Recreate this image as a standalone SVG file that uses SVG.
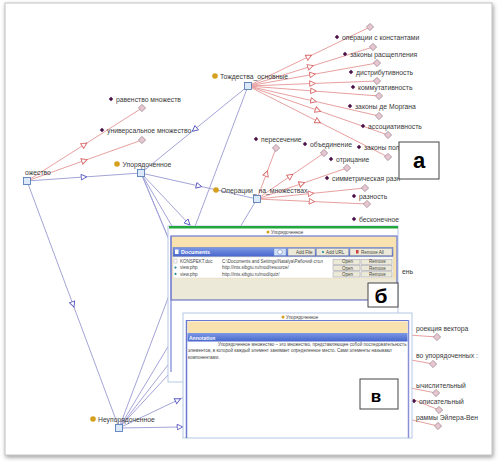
<svg xmlns="http://www.w3.org/2000/svg" width="499" height="462" viewBox="0 0 499 462">
<style>
.lbl{font-family:"Liberation Sans",Arial,sans-serif;font-size:6.8px;fill:#3a3a3a}
.tiny{font-family:"Liberation Sans",Arial,sans-serif;font-size:4.5px;fill:#444}
.red{fill:none;stroke:#e8a0a0;stroke-width:1;marker-mid:url(#ar)}
.redp{fill:none;stroke:#e8a0a0;stroke-width:1}
.blue{fill:none;stroke:#a4a4d8;stroke-width:1;marker-mid:url(#ab)}
.bluep{fill:none;stroke:#a4a4d8;stroke-width:1}
.leaf{fill:#e6c6d0;stroke:#a08890;stroke-width:0.8}
.pd{fill:#4a1246}
.cls{fill:#dbe9f8;stroke:#5a7fb8;stroke-width:0.9}
.od{fill:#d4a01e}
.btn{fill:#ece9d8;stroke:#9a9aa8;stroke-width:0.5}
.big{font-family:"Liberation Sans",Arial,sans-serif;font-weight:900;fill:#000}
</style>
<defs>
<marker id="ar" viewBox="0 0 10 10" refX="5" refY="5" markerWidth="7" markerHeight="7" markerUnits="userSpaceOnUse" orient="auto"><path d="M1,1 L9,5 L1,9 Z" fill="#fff" stroke="#d86868" stroke-width="1.3"/></marker>
<marker id="ab" viewBox="0 0 10 10" refX="5" refY="5" markerWidth="7" markerHeight="7" markerUnits="userSpaceOnUse" orient="auto"><path d="M1,1 L9,5 L1,9 Z" fill="#fff" stroke="#5a5ac0" stroke-width="1.3"/></marker>
<filter id="sh" x="-5%" y="-5%" width="110%" height="110%"><feDropShadow dx="1" dy="2" stdDeviation="2.2" flood-color="#777" flood-opacity="0.7"/></filter>
<linearGradient id="hb" x1="0" y1="0" x2="0" y2="1"><stop offset="0" stop-color="#7d98e4"/><stop offset="1" stop-color="#4766cc"/></linearGradient>
<symbol id="lf" viewBox="-4 -4 8 8" overflow="visible"><path d="M0,-3.6 L3.6,0 L0,3.6 L-3.6,0 Z" class="leaf"/></symbol>
</defs>
<rect x="5" y="3" width="487" height="452" fill="#fff" stroke="#c4c4c4" stroke-width="1" filter="url(#sh)"/>

<g id="connectors">
<path class="red" d="M27,181 L84.5,144.5 L142,108"/>
<path class="red" d="M27,181 L84.5,160.5 L142,140"/>
<path class="blue" d="M27,181 L84,177 L141,173"/>
<path class="blue" d="M27,181 L73,304.5 L119,428"/>
<path class="red" d="M248,86 L309,56.5 L370,27"/>
<path class="red" d="M248,86 L310.5,66.5 L373,47"/>
<path class="red" d="M248,86 L312.5,74.5 L377,63"/>
<path class="red" d="M248,86 L312.5,83.5 L377,81"/>
<path class="red" d="M248,86 L313.5,91 L379,96"/>
<path class="red" d="M248,86 L313.5,101 L379,116"/>
<path class="red" d="M248,86 L318,110.5 L388,135"/>
<path class="red" d="M248,86 L318,121.5 L388,157"/>
<path class="blue" d="M248,86 L194.5,129.5 L141,173"/>
<path class="bluep" d="M248,86 L119,428"/>
<path class="red" d="M257,199 L266.5,173.5 L276,148"/>
<path class="red" d="M257,199 L290.5,176 L324,153"/>
<path class="red" d="M257,199 L302,183.5 L347,168"/>
<path class="red" d="M257,199 L311,193.5 L365,188"/>
<path class="red" d="M257,199 L312,201.5 L367,204"/>
<path class="bluep" d="M257,199 L119,428"/>
<path class="blue" d="M141,173 L199,186 L257,199"/>
<path class="bluep" d="M141,173 L190,290"/>
<path class="bluep" d="M141,173 L215,300"/>
<path class="bluep" d="M141,173 L203,320"/>
<path class="blue" d="M141,173 L188,223 L235,273"/>
<path class="bluep" d="M119,428 L217,302"/>
<path class="bluep" d="M119,428 L217,322"/>
<path class="blue" d="M119,428 L178,400 L237,372"/>
<path class="blue" d="M119,428 L180,427 L241,426"/>
<path class="redp" d="M395,334 L437,337"/>
<path class="redp" d="M395,357 L433,364"/>
<path class="redp" d="M395,385 L436,393"/>
<path class="redp" d="M395,392 L439,410"/>
<path class="redp" d="M395,416 L438,426"/>
</g>

<g id="n-mnozhestvo"><rect class="cls" x="23.5" y="177.5" width="7" height="7"/><text class="lbl" x="25" y="175">ожество</text></g>
<g id="n-uporyad"><rect class="cls" x="137.5" y="169.5" width="7" height="7"/><circle class="od" cx="117" cy="164" r="2.8"/><text class="lbl" x="122.5" y="166.5">Упорядоченное</text></g>
<g id="n-tozhd"><rect class="cls" x="244.5" y="82.5" width="7" height="7"/><circle class="od" cx="215" cy="76" r="2.8"/><text class="lbl" x="220" y="78.5">Тождества_основные</text></g>
<g id="n-oper"><rect class="cls" x="253.5" y="195.5" width="7" height="7"/><circle class="od" cx="216" cy="190" r="2.8"/><text class="lbl" x="221" y="192.5">Операции_ на_множествах</text></g>
<g id="n-neupor"><rect class="cls" x="115.5" y="424.5" width="7" height="7"/><circle class="od" cx="93" cy="419" r="2.8"/><text class="lbl" x="98" y="421.5">Неупорядоченное</text></g>

<g id="leaves">
<use href="#lf" x="138" y="104" width="8" height="8"/>
<use href="#lf" x="138" y="136" width="8" height="8"/>
<use href="#lf" x="366" y="23" width="8" height="8"/>
<use href="#lf" x="369" y="43" width="8" height="8"/>
<use href="#lf" x="373" y="59" width="8" height="8"/>
<use href="#lf" x="373" y="77" width="8" height="8"/>
<use href="#lf" x="375" y="92" width="8" height="8"/>
<use href="#lf" x="375" y="112" width="8" height="8"/>
<use href="#lf" x="384" y="131" width="8" height="8"/>
<use href="#lf" x="384" y="153" width="8" height="8"/>
<use href="#lf" x="272" y="144" width="8" height="8"/>
<use href="#lf" x="320" y="149" width="8" height="8"/>
<use href="#lf" x="343" y="164" width="8" height="8"/>
<use href="#lf" x="361" y="184" width="8" height="8"/>
<use href="#lf" x="363" y="200" width="8" height="8"/>
<use href="#lf" x="433" y="333" width="8" height="8"/>
<use href="#lf" x="429" y="360" width="8" height="8"/>
<use href="#lf" x="432" y="389" width="8" height="8"/>
<use href="#lf" x="435" y="406" width="8" height="8"/>
<use href="#lf" x="434" y="422" width="8" height="8"/>
</g>

<g id="leaf-labels">
<g id="l1"><path class="pd" d="M111,96.8 L113.2,99 L111,101.2 L108.8,99Z"/><text class="lbl" x="116" y="101.5">равенство множеств</text></g>
<g id="l2"><path class="pd" d="M102,127.8 L104.2,130 L102,132.2 L99.8,130Z"/><text class="lbl" x="107" y="132.5">универсальное множество</text></g>
<g id="l3"><path class="pd" d="M337,34.8 L339.2,37 L337,39.2 L334.8,37Z"/><text class="lbl" x="342" y="39.5">операции с константами</text></g>
<g id="l4"><path class="pd" d="M345,51.8 L347.2,54 L345,56.2 L342.8,54Z"/><text class="lbl" x="350" y="56.5">законы расщепления</text></g>
<g id="l5"><path class="pd" d="M351,69.8 L353.2,72 L351,74.2 L348.8,72Z"/><text class="lbl" x="356" y="74.5">дистрибутивность</text></g>
<g id="l6"><path class="pd" d="M353,84.8 L355.2,87 L353,89.2 L350.8,87Z"/><text class="lbl" x="358" y="89.5">коммутативность</text></g>
<g id="l7"><path class="pd" d="M350,103.8 L352.2,106 L350,108.2 L347.8,106Z"/><text class="lbl" x="355" y="108.5">законы де Моргана</text></g>
<g id="l8"><path class="pd" d="M363,123.8 L365.2,126 L363,128.2 L360.8,126Z"/><text class="lbl" x="368" y="128.5">ассоциативность</text></g>
<g id="l9"><path class="pd" d="M359,144.8 L361.2,147 L359,149.2 L356.8,147Z"/><text class="lbl" x="364" y="149.5">законы пол</text></g>
<g id="l10"><path class="pd" d="M256,136.8 L258.2,139 L256,141.2 L253.8,139Z"/><text class="lbl" x="261" y="141.5">пересечение</text></g>
<g id="l11"><path class="pd" d="M305,141.8 L307.2,144 L305,146.2 L302.8,144Z"/><text class="lbl" x="310" y="146.5">объединение</text></g>
<g id="l12"><path class="pd" d="M331,156.8 L333.2,159 L331,161.2 L328.8,159Z"/><text class="lbl" x="336" y="161.5">отрицание</text></g>
<g id="l13"><path class="pd" d="M327,175.8 L329.2,178 L327,180.2 L324.8,178Z"/><text class="lbl" x="332" y="180.5">симметрическая разн</text></g>
<g id="l14"><path class="pd" d="M354,193.8 L356.2,196 L354,198.2 L351.8,196Z"/><text class="lbl" x="359" y="198.5">разность</text></g>
<g id="l15"><path class="pd" d="M354,216.8 L356.2,219 L354,221.2 L351.8,219Z"/><text class="lbl" x="359" y="221.5">бесконечное</text></g>
<g id="l16"><text class="lbl" x="402" y="273.5">ень</text></g>
<g id="l17"><text class="lbl" x="416" y="330.5">роекция вектора</text></g>
<g id="l18"><text class="lbl" x="416" y="357.5">во упорядоченных :</text></g>
<g id="l19"><text class="lbl" x="416" y="387.5">ычислительный</text></g>
<g id="l20"><path class="pd" d="M414,398.8 L416.2,401 L414,403.2 L411.8,401Z"/><text class="lbl" x="419" y="403.5">описательный</text></g>
<g id="l21"><text class="lbl" x="416" y="419.5">раммы Эйлера-Вен</text></g>
</g>

<g id="box-a"><rect x="399" y="142" width="40" height="37" fill="#fff" stroke="#444" stroke-width="1"/><text class="big" x="419" y="168" font-size="22" text-anchor="middle">а</text></g>

<g id="win-b">
<rect x="168" y="226" width="230" height="156" fill="#fff" stroke="#b4c8e6" stroke-width="1"/>
<rect x="169" y="226" width="229" height="2.5" fill="#22a83a"/>
<circle class="od" cx="268" cy="232" r="1.5"/><text class="tiny" x="271" y="233.8">Упорядоченное</text>
<rect x="171" y="236" width="226" height="64" fill="#f8e2b0" stroke="#6a78d0" stroke-width="1.2"/>
<line x1="171" y1="236" x2="171" y2="372" stroke="#7a86d6" stroke-width="1.2"/>
<rect x="173" y="247.5" width="220" height="9" fill="url(#hb)" stroke="#5a74c8" stroke-width="0.5"/>
<rect x="175" y="249.5" width="3.5" height="4.5" fill="#fff"/>
<text x="181" y="254.3" font-family="Liberation Sans,Arial,sans-serif" font-size="5.3" font-weight="bold" fill="#fff">Documents</text>
<rect x="274" y="248.5" width="12" height="7" fill="#cfe0f6" stroke="#7a8ac8" stroke-width="0.4"/>
<circle cx="280" cy="252" r="2.3" fill="#fff" stroke="#5a6ac0" stroke-width="0.5"/>
<rect class="btn" x="288" y="248.5" width="27" height="7"/><text class="tiny" x="296" y="253.6" font-size="4">Add File</text>
<rect class="btn" x="316.5" y="248.5" width="32" height="7"/><circle cx="323" cy="252" r="1.1" fill="#1f8a9a"/><text class="tiny" x="326" y="253.6" font-size="4">Add URL</text>
<rect class="btn" x="350" y="248.5" width="42" height="7"/><rect x="356" y="250" width="2.5" height="3.5" fill="#d04040"/><text class="tiny" x="361" y="253.6" font-size="4">Remove All</text>
<rect x="173" y="257" width="220" height="21" fill="#fff" stroke="#d0d0d0" stroke-width="0.4"/>
<rect x="174" y="259" width="3" height="4" fill="#fff" stroke="#999" stroke-width="0.4"/>
<text class="tiny" x="180" y="263" font-size="4">KONSPEKT.doc</text>
<text class="tiny" x="222" y="263" font-size="4">C:\Documents and Settings\Natalya\Рабочий стол</text>
<circle cx="175.5" cy="267.6" r="1.1" fill="#1f8a9a"/><text class="tiny" x="180" y="269.3" font-size="4">view.php</text>
<text class="tiny" x="222" y="269.3" font-size="4">http://ints.sibgtu.ru/mod/resource/</text>
<circle cx="175.5" cy="273.9" r="1.1" fill="#1f8a9a"/><text class="tiny" x="180" y="275.6" font-size="4">view.php</text>
<text class="tiny" x="222" y="275.6" font-size="4">http://ints.sibgtu.ru/mod/quiz/</text>
<rect class="btn" x="333" y="259.2" width="27" height="5.2"/><text class="tiny" x="342" y="263.3" font-size="3.8">Open</text>
<rect class="btn" x="361" y="259.2" width="31" height="5.2"/><text class="tiny" x="369" y="263.3" font-size="3.8">Remove</text>
<rect class="btn" x="333" y="265.5" width="27" height="5.2"/><text class="tiny" x="342" y="269.6" font-size="3.8">Open</text>
<rect class="btn" x="361" y="265.5" width="31" height="5.2"/><text class="tiny" x="369" y="269.6" font-size="3.8">Remove</text>
<rect class="btn" x="333" y="271.8" width="27" height="5.2"/><text class="tiny" x="342" y="275.9" font-size="3.8">Open</text>
<rect class="btn" x="361" y="271.8" width="31" height="5.2"/><text class="tiny" x="369" y="275.9" font-size="3.8">Remove</text>
<rect x="172" y="278.5" width="224" height="20.5" fill="#ece9d8"/>
</g>

<g id="box-b"><rect x="368" y="283" width="30" height="24" fill="#fff" stroke="#444" stroke-width="1"/><text class="big" x="381" y="303" font-size="21" text-anchor="middle">б</text></g>

<g id="win-v">
<rect x="183" y="313" width="229" height="125" fill="#fff" stroke="#b4c8e6" stroke-width="1"/>
<circle class="od" cx="283" cy="317" r="1.5"/><text class="tiny" x="286" y="318.8">Упорядоченное</text>
<line x1="186" y1="320.5" x2="409" y2="320.5" stroke="#6a78d0" stroke-width="1.2"/>
<line x1="186.5" y1="320" x2="186.5" y2="438" stroke="#6a78d0" stroke-width="1.5"/>
<line x1="408.5" y1="320" x2="408.5" y2="438" stroke="#8a90d8" stroke-width="1.5"/>
<rect x="187.5" y="321.5" width="220" height="11.5" fill="#f8e2b0"/>
<rect x="187.5" y="333" width="220" height="8.5" fill="url(#hb)"/>
<text x="189" y="339.5" font-family="Liberation Sans,Arial,sans-serif" font-size="5" font-weight="bold" fill="#fff">Annotation</text>
<text class="tiny" x="218" y="346" font-size="4.4">Упорядоченное множество – это множество, представляющее собой последовательность</text>
<text class="tiny" x="188" y="352.3" font-size="4.4">элементов, в которой каждый элемент занимает определенное место. Сами элементы называют</text>
<text class="tiny" x="188" y="358.6" font-size="4.4">компонентами.</text>
</g>

<g id="box-v"><rect x="360" y="379" width="38" height="30" fill="#fff" stroke="#444" stroke-width="1"/><text class="big" x="376" y="402" font-size="17" text-anchor="middle">в</text></g>
</svg>
